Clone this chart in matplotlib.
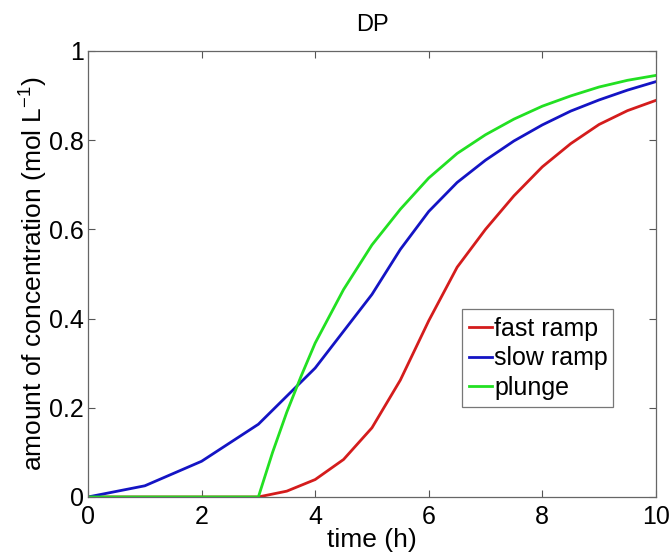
import matplotlib
matplotlib.use('Agg')
import matplotlib.pyplot as plt

plt.rcParams['font.family'] = ['Liberation Sans', 'DejaVu Sans']
plt.rcParams['mathtext.default'] = 'regular'

# fast ramp
t_fast = [0, 1, 2, 3, 3.5, 4, 4.5, 5, 5.5, 6, 6.5, 7, 7.5, 8, 8.5, 9, 9.5, 10]
c_fast = [0, 0, 0, 0, 0.013, 0.039, 0.084, 0.155, 0.262, 0.395, 0.515, 0.600, 0.675,
          0.740, 0.792, 0.835, 0.866, 0.889]

# slow ramp
t_slow = [0, 1, 2, 3, 4, 5, 5.5, 6, 6.5, 7, 7.5, 8, 8.5, 9, 9.5, 10]
c_slow = [0, 0.025, 0.080, 0.163, 0.289, 0.454, 0.555, 0.640, 0.705, 0.755, 0.798,
          0.834, 0.865, 0.890, 0.912, 0.931]

# plunge
t_plunge = [0, 1, 2, 3, 3.25, 3.5, 3.75, 4, 4.5, 5, 5.5, 6, 6.5, 7, 7.5, 8, 8.5, 9, 9.5, 10]
c_plunge = [0, 0, 0, 0, 0.100, 0.190, 0.270, 0.345, 0.465, 0.565, 0.645, 0.715, 0.770,
            0.812, 0.847, 0.876, 0.899, 0.919, 0.934, 0.945]

xticks = [0, 2, 4, 6, 8, 10]
yticks = [0, 0.2, 0.4, 0.6, 0.8, 1]
xtick_labels = ['0', '2', '4', '6', '8', '10']
ytick_labels = ['0', '0.2', '0.4', '0.6', '0.8', '1']

fig = plt.figure(figsize=(6.72, 5.59), dpi=100)
ax = fig.add_axes([0.131, 0.111, 0.845, 0.798])

ax.plot(t_fast, c_fast, color='#d41c1c', linewidth=2.0, label='fast ramp')
ax.plot(t_slow, c_slow, color='#1414c4', linewidth=2.0, label='slow ramp')
ax.plot(t_plunge, c_plunge, color='#22e022', linewidth=2.0, label='plunge')

ax.set_xlim(0, 10)
ax.set_ylim(0, 1)
ax.set_xticks(xticks)
ax.set_xticklabels(xtick_labels)
ax.set_yticks(yticks)
ax.set_yticklabels(ytick_labels)
ax.tick_params(direction='in', length=5, width=0.8, color='#555555',
               top=True, right=True, labelsize=18)
ax.tick_params(axis='x', pad=6)
ax.tick_params(axis='y', pad=3)
for s in ax.spines.values():
    s.set_color('#666666')
    s.set_linewidth(0.9)

ax.set_xlabel('time (h)', fontsize=19, labelpad=-1)
ax.set_ylabel('amount of concentration (mol L$^{-1}$)', fontsize=19, labelpad=-1)
ax.set_title('DP', fontsize=17, pad=14)

leg = ax.legend(loc='lower left', bbox_to_anchor=(0.658, 0.201, 0.267, 0.222),
                mode='expand', fontsize=18, handlelength=0.9, handletextpad=0.1,
                labelspacing=0.22, borderpad=0.3, borderaxespad=0, fancybox=False,
                framealpha=1)
leg.get_frame().set_edgecolor('#777777')
leg.get_frame().set_linewidth(0.9)

fig.savefig('out.png', dpi=100)
